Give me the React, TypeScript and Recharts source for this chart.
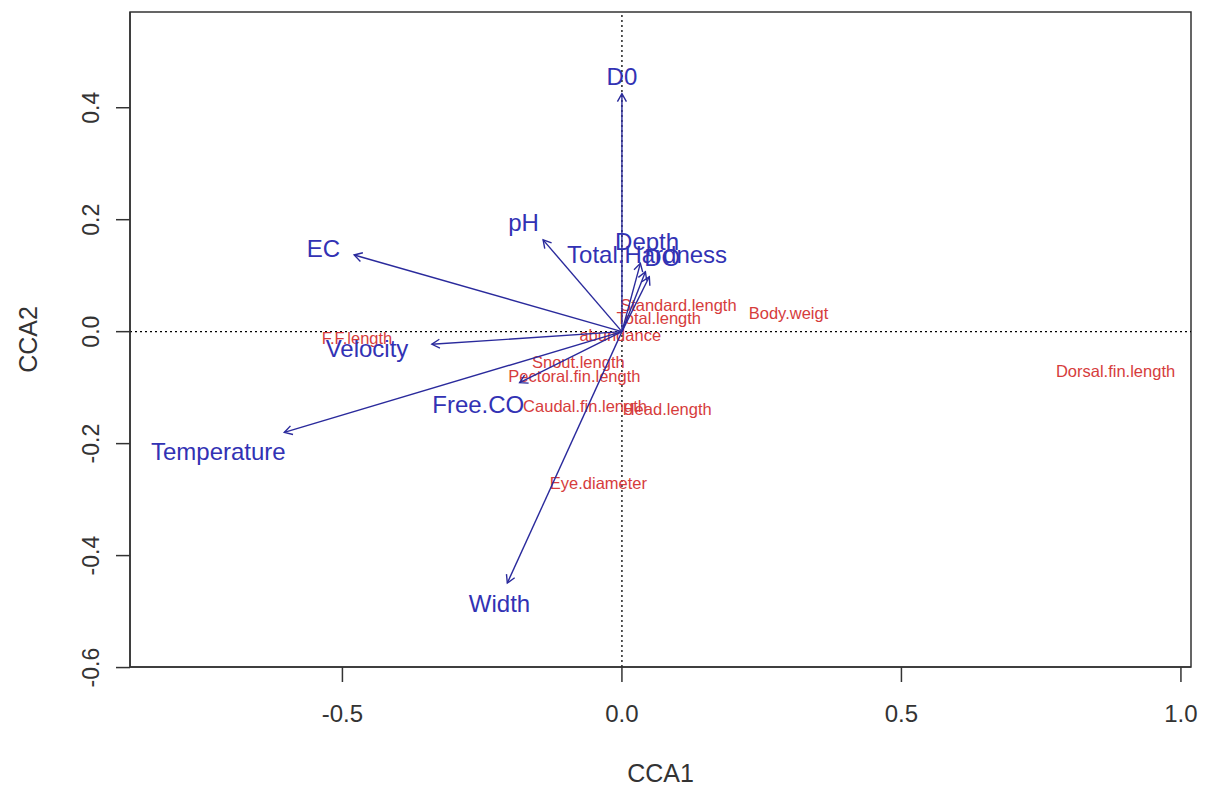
import React from "react";
import {
  ScatterChart,
  Scatter,
  XAxis,
  YAxis,
  ReferenceLine,
  ReferenceArea,
} from "recharts";

// axis ranges + ticks
const xDomain = [-0.88, 1.018];
const yDomain = [-0.599, 0.571];
const xTicks = [-0.5, 0.0, 0.5, 1.0];
const yTicks = [-0.6, -0.4, -0.2, 0.0, 0.2, 0.4];

// environmental vectors (biplot arrows)
const envNames = ["D0", "EC", "pH", "Depth", "Total.Hardness", "DO", "Velocity", "Temperature", "Free.CO", "Width"];
const envX = [0.0, -0.479, -0.141, 0.033, 0.042, 0.049, -0.34, -0.604, -0.183, -0.205];
const envY = [0.425, 0.137, 0.164, 0.122, 0.107, 0.098, -0.0225, -0.18, -0.091, -0.449];
// where the arrow labels sit
const envLabelX = [0.0, -0.534, -0.176, 0.045, 0.045, 0.072, -0.456, -0.722, -0.257, -0.219];
const envLabelY = [0.455, 0.149, 0.194, 0.161, 0.137, 0.133, -0.03, -0.214, -0.131, -0.485];

// species scores (red text)
const spNames = [
  "Standard.length",
  "Total.length",
  "Body.weigt",
  "abundance",
  "Snout.length",
  "Pectoral.fin.length",
  "Caudal.fin.length",
  "Head.length",
  "Eye.diameter",
  "F.F.length",
  "Dorsal.fin.length",
];
const spX = [0.101, 0.066, 0.298, -0.003, -0.078, -0.085, -0.066, 0.081, -0.042, -0.474, 0.883];
const spY = [0.048, 0.024, 0.033, -0.006, -0.055, -0.079, -0.134, -0.139, -0.271, -0.012, -0.071];

const FONT = "'Liberation Sans', Arial, Helvetica, sans-serif";
const BLUE_TEXT = "#3232b4";
const BLUE_LINE = "#2a2a9c";
const RED = "#d63c3c";
const AXIS = "#333";

const speciesData = spNames.map((name, i) => ({ x: spX[i], y: spY[i], name }));
const envLabelData = envNames.map((name, i) => ({ x: envLabelX[i], y: envLabelY[i], name }));

function Empty() {
  return <g />;
}

function Arrow({ points }: any) {
  if (!points || points.length < 2) return <g />;
  const a = points[0];
  const b = points[1];
  const ang = Math.atan2(b.y - a.y, b.x - a.x);
  const len = 9;
  const spread = Math.PI / 6;
  const p1x = b.x - len * Math.cos(ang - spread);
  const p1y = b.y - len * Math.sin(ang - spread);
  const p2x = b.x - len * Math.cos(ang + spread);
  const p2y = b.y - len * Math.sin(ang + spread);
  return (
    <g stroke={BLUE_LINE} strokeWidth={1.4} fill="none">
      <line x1={a.x} y1={a.y} x2={b.x} y2={b.y} />
      <polyline points={`${p1x},${p1y} ${b.x},${b.y} ${p2x},${p2y}`} />
    </g>
  );
}

function SpeciesLabel(props: any) {
  const name = props.payload?.name ?? props.name;
  return (
    <text x={props.cx} y={props.cy} dy="0.35em" textAnchor="middle" fontSize={16.5} fill={RED} fontFamily={FONT}>
      {name}
    </text>
  );
}

function EnvLabel(props: any) {
  const name = props.payload?.name ?? props.name;
  return (
    <text x={props.cx} y={props.cy} dy="0.35em" textAnchor="middle" fontSize={24} fill={BLUE_TEXT} fontFamily={FONT}>
      {name}
    </text>
  );
}

function YTick(props: any) {
  const { x, y, payload } = props;
  return (
    <text
      x={x}
      y={y}
      transform={`rotate(-90 ${x} ${y})`}
      textAnchor="middle"
      fontSize={23}
      fill={AXIS}
      fontFamily={FONT}
    >
      {Number(payload.value).toFixed(1)}
    </text>
  );
}

function YTitle(props: any) {
  const vb = props.viewBox || { x: 0, y: 12, width: 130, height: 655 };
  const x = vb.x + 37;
  const y = vb.y + vb.height / 2;
  return (
    <text x={x} y={y} transform={`rotate(-90 ${x} ${y})`} textAnchor="middle" fontSize={25} fill={AXIS} fontFamily={FONT}>
      CCA2
    </text>
  );
}

function XTitle(props: any) {
  const vb = props.viewBox || { x: 130, y: 667, width: 1061, height: 120 };
  return (
    <text x={vb.x + vb.width / 2} y={vb.y + 115} textAnchor="middle" fontSize={25} fill={AXIS} fontFamily={FONT}>
      CCA1
    </text>
  );
}

export default function App() {
  return (
    <div style={{ position: "absolute", left: 0, top: 0, background: "#fff" }}>
      <ScatterChart width={1207} height={787} margin={{ top: 12, right: 16, bottom: 0, left: 0 }}>
        <XAxis
          type="number"
          dataKey="x"
          domain={xDomain}
          allowDataOverflow
          ticks={xTicks}
          tickFormatter={(v: number) => v.toFixed(1)}
          tickSize={15}
          tickMargin={23}
          height={120}
          stroke={AXIS}
          axisLine={{ stroke: AXIS, strokeWidth: 1.5 }}
          tickLine={{ stroke: AXIS, strokeWidth: 1.5 }}
          tick={{ fontSize: 24, fill: AXIS, fontFamily: FONT }}
          label={{ content: XTitle }}
        />
        <YAxis
          type="number"
          dataKey="y"
          domain={yDomain}
          allowDataOverflow
          ticks={yTicks}
          tickSize={14}
          tickMargin={17}
          width={130}
          stroke={AXIS}
          axisLine={{ stroke: AXIS, strokeWidth: 1.5 }}
          tickLine={{ stroke: AXIS, strokeWidth: 1.5 }}
          tick={YTick}
          label={{ content: YTitle }}
        />
        <ReferenceArea
          x1={xDomain[0]}
          x2={xDomain[1]}
          y1={yDomain[0]}
          y2={yDomain[1]}
          fill="none"
          fillOpacity={0}
          stroke={AXIS}
          strokeWidth={1.5}
        />
        <ReferenceLine x={0} stroke="#000" strokeWidth={1.3} strokeDasharray="2 3" />
        <ReferenceLine y={0} stroke="#000" strokeWidth={1.3} strokeDasharray="2 3" />

        <Scatter data={speciesData} shape={SpeciesLabel} isAnimationActive={false} />

        {envNames.map((name, i) => (
          <Scatter
            key={name}
            data={[
              { x: 0, y: 0 },
              { x: envX[i], y: envY[i] },
            ]}
            shape={Empty}
            line={(p: any) => <Arrow points={p.points} />}
            isAnimationActive={false}
          />
        ))}

        <Scatter data={envLabelData} shape={EnvLabel} isAnimationActive={false} />
      </ScatterChart>
    </div>
  );
}
